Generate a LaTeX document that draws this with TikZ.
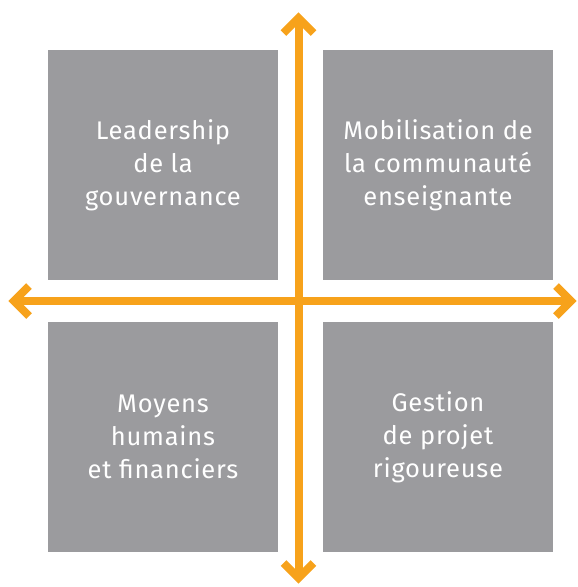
\documentclass[tikz,border=0pt]{standalone}
\usepackage{fontspec}
\setmainfont{Fira Sans}[LetterSpace=3]
\definecolor{boxgray}{HTML}{9B9B9E}
\definecolor{axisorange}{HTML}{F7A21B}
\tikzset{
  quadbox/.style={fill=boxgray, minimum size=230pt, inner sep=0pt,
    text=white, align=center, font=\fontsize{25.5}{33}\selectfont},
  axisline/.style={line width=8pt, axisorange},
  chevron/.style={line width=8pt, axisorange, miter limit=4}
}
\begin{document}
\begin{tikzpicture}[x=1pt, y=-1pt]
    \useasboundingbox (0,0) rectangle (578,587);

    % Quadrants
    \node[quadbox] (gouv) at (163,165) {Leadership\\de la\\gouvernance};
    \node[quadbox] (comm) at (438,165) {Mobilisation de\\la communauté\\enseignante};
    \node[quadbox] (moyens) at (163,437) {Moyens\\humains\\et financiers};
    \node[quadbox] (projet) at (438,437) {Gestion\\de projet\\rigoureuse};

    % Axes
    \coordinate (top) at (298.5,18);
    \coordinate (bottom) at (298.5,578);
    \coordinate (left) at (14,301);
    \coordinate (right) at (571,301);
    \draw[axisline] (left) -- (right);
    \draw[axisline] (top) -- (bottom);

    % Arrow heads (open chevrons)
    \foreach \p/\a in {top/90, bottom/-90, left/180, right/0}
      \draw[chevron, shift={(\p)}, rotate=\a] (-15,15) -- (0,0) -- (-15,-15);
\end{tikzpicture}
\end{document}
